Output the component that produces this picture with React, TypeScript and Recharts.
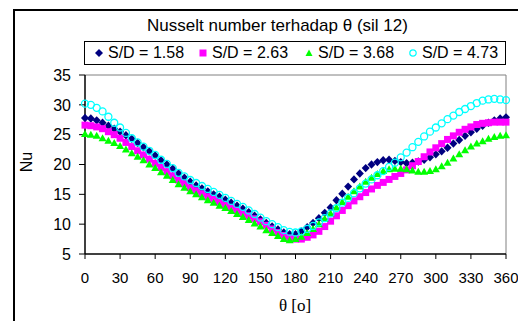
import React from 'react'
import {
  ScatterChart, Scatter, XAxis, YAxis, ReferenceLine
} from 'recharts'

const ANGLES = [
  0, 5, 10, 15, 20, 25, 30, 35, 40, 45, 50, 55, 60, 65, 70, 75, 80, 85, 90,
  95, 100, 105, 110, 115, 120, 125, 130, 135, 140, 145, 150, 155, 160, 165, 170, 175, 180,
  185, 190, 195, 200, 205, 210, 215, 220, 225, 230, 235, 240, 245, 250, 255, 260, 265, 270,
  275, 280, 285, 290, 295, 300, 305, 310, 315, 320, 325, 330, 335, 340, 345, 350, 355, 360,
]

// S/D = 1.58
const NU_158 = [
  27.8, 27.7, 27.4, 27.0, 26.5, 26.0, 25.5, 24.9, 24.3, 23.6, 22.9, 22.2, 21.5, 20.7, 20.0, 19.3, 18.5, 17.8, 17.1,
  16.5, 16.0, 15.5, 15.0, 14.6, 14.1, 13.6, 13.1, 12.6, 12.0, 11.4, 10.8, 10.2, 9.6, 9.1, 8.6, 8.3, 8.3,
  8.8, 9.5, 10.2, 11.0, 11.9, 12.8, 14.0, 15.1, 16.3, 17.5, 18.5, 19.4, 20.0, 20.4, 20.7, 20.8, 20.6, 20.4,
  20.2, 20.3, 20.5, 20.8, 21.2, 21.7, 22.2, 22.8, 23.5, 24.1, 24.8, 25.4, 26.0, 26.5, 27.0, 27.4, 27.7, 27.9,
]

// S/D = 2.63
const NU_263 = [
  26.6, 26.5, 26.3, 26.0, 25.5, 25.0, 24.4, 23.7, 23.0, 22.3, 21.6, 20.9, 20.2, 19.5, 18.8, 18.1, 17.4, 16.8, 16.1,
  15.6, 15.1, 14.6, 14.2, 13.7, 13.2, 12.8, 12.3, 11.8, 11.4, 10.9, 10.4, 9.8, 9.2, 8.6, 8.1, 7.7, 7.5,
  7.5, 7.8, 8.2, 8.8, 9.6, 10.5, 11.4, 12.3, 13.1, 13.9, 14.6, 15.3, 15.9, 16.5, 17.0, 17.5, 18.0, 18.5,
  19.1, 19.8, 20.5, 21.3, 22.1, 22.8, 23.5, 24.2, 24.8, 25.4, 25.9, 26.3, 26.7, 26.9, 27.0, 27.1, 27.1, 27.1,
]

// S/D = 3.68
const NU_368 = [
  25.1, 25.0, 24.8, 24.4, 24.0, 23.6, 23.1, 22.5, 21.9, 21.3, 20.7, 20.0, 19.4, 18.7, 18.1, 17.4, 16.7, 16.1, 15.5,
  15.0, 14.5, 14.0, 13.6, 13.1, 12.7, 12.2, 11.7, 11.2, 10.7, 10.1, 9.6, 9.0, 8.5, 8.0, 7.5, 7.3, 7.5,
  7.9, 8.5, 9.2, 10.0, 10.9, 11.8, 12.8, 13.7, 14.6, 15.5, 16.3, 17.1, 17.8, 18.4, 18.9, 19.2, 19.3, 19.3,
  19.2, 19.0, 18.8, 18.8, 18.9, 19.2, 19.7, 20.3, 21.0, 21.7, 22.4, 23.0, 23.5, 23.9, 24.3, 24.6, 24.8, 24.9,
]

// S/D = 4.73
const NU_473 = [
  30.2, 30.0, 29.5, 28.9, 28.0, 27.0, 26.2, 25.3, 24.4, 23.7, 23.0, 22.3, 21.6, 20.8, 20.1, 19.4, 18.6, 18.0, 17.4,
  16.9, 16.4, 15.9, 15.4, 14.9, 14.4, 13.9, 13.4, 12.9, 12.3, 11.7, 11.1, 10.5, 10.0, 9.5, 9.0, 8.7, 8.6,
  8.8, 9.2, 9.7, 10.3, 11.0, 11.8, 12.7, 13.6, 14.4, 15.2, 16.0, 16.8, 17.5, 18.2, 18.9, 19.6, 20.3, 21.2,
  22.0, 22.9, 23.8, 24.7, 25.5, 26.2, 26.9, 27.6, 28.2, 28.8, 29.3, 29.8, 30.3, 30.7, 30.9, 31.0, 30.9, 30.8,
]

const X_TICKS = [0, 30, 60, 90, 120, 150, 180, 210, 240, 270, 300, 330, 360]
const Y_TICKS = [5, 10, 15, 20, 25, 30, 35]

const NAVY = '#000080'
const MAGENTA = '#ff00ff'
const GREEN = '#00ff00'
const CYAN = '#00ffff'

const FONT = '"Liberation Sans", Arial, sans-serif'

const toPoints = (vals: number[]) => ANGLES.map((a, i) => ({ x: a, y: vals[i] }))

const Diamond = (p: any) => (
  <path d={`M${p.cx},${p.cy - 4.2}L${p.cx + 4},${p.cy}L${p.cx},${p.cy + 4.2}L${p.cx - 4},${p.cy}Z`} fill={NAVY} />
)
const Square = (p: any) => <rect x={p.cx - 3.5} y={p.cy - 3.5} width={7} height={7} fill={MAGENTA} />
const Triangle = (p: any) => (
  <path d={`M${p.cx},${p.cy - 4}L${p.cx + 4},${p.cy + 3}L${p.cx - 4},${p.cy + 3}Z`} fill={GREEN} />
)
const Ring = (p: any) => <circle cx={p.cx} cy={p.cy} r={3.5} fill="none" stroke={CYAN} strokeWidth={1.3} />

function LegendBox() {
  const items = [
    { label: 'S/D = 1.58', icon: <path d="M4,0L8,4L4,8L0,4Z" fill={NAVY} /> },
    { label: 'S/D = 2.63', icon: <rect x={0.5} y={0.5} width={7} height={7} fill={MAGENTA} /> },
    { label: 'S/D = 3.68', icon: <path d="M4,0.5L7.5,7L0.5,7Z" fill={GREEN} /> },
    { label: 'S/D = 4.73', icon: <circle cx={4} cy={4} r={3.2} fill="none" stroke={CYAN} strokeWidth={1.2} /> },
  ]
  const lefts = [94, 198, 304, 408]
  return (
    <div style={{ position: 'absolute', left: 84, top: 41, width: 420, height: 22, border: '1px solid #000', background: '#fff' }}>
      {items.map((it, i) => (
        <div key={i} style={{ position: 'absolute', left: lefts[i] - 84, top: 0, height: 22, display: 'flex', alignItems: 'center' }}>
          <svg width={8} height={8} style={{ marginRight: 5 }}>{it.icon}</svg>
          <span style={{ fontFamily: FONT, fontSize: 16, color: '#000', whiteSpace: 'nowrap' }}>{it.label}</span>
        </div>
      ))}
    </div>
  )
}

export default function App() {
  return (
    <div style={{ position: 'absolute', left: 0, top: 0, width: 518, height: 321, background: '#fff', overflow: 'hidden' }}>
      <div style={{ position: 'absolute', left: 13, top: 9, width: 600, height: 400, border: '2px solid #000' }} />
      <div style={{ position: 'absolute', left: 0, top: 0 }}>
        <ScatterChart width={518} height={321} margin={{ top: 75, right: 12, bottom: 17, left: 0 }}>
          <XAxis
            type="number"
            dataKey="x"
            domain={[0, 360]}
            ticks={X_TICKS}
            interval={0}
            height={50}
            tickSize={5}
            tickMargin={13}
            axisLine={{ stroke: '#000', strokeWidth: 1.5 }}
            tickLine={{ stroke: '#000' }}
            tick={{ fill: '#000', fontSize: 15, fontFamily: FONT }}
          />
          <YAxis
            type="number"
            dataKey="y"
            domain={[5, 35]}
            ticks={Y_TICKS}
            interval={0}
            width={85}
            tickSize={6}
            tickMargin={8}
            axisLine={{ stroke: '#000', strokeWidth: 1.5 }}
            tickLine={{ stroke: '#000' }}
            tick={{ fill: '#000', fontSize: 16, fontFamily: FONT }}
          />
          <ReferenceLine y={35} stroke="#808080" />
          <ReferenceLine x={360} stroke="#808080" />
          <Scatter data={toPoints(NU_158)} shape={Diamond} isAnimationActive={false} />
          <Scatter data={toPoints(NU_263)} shape={Square} isAnimationActive={false} />
          <Scatter data={toPoints(NU_368)} shape={Triangle} isAnimationActive={false} />
          <Scatter data={toPoints(NU_473)} shape={Ring} isAnimationActive={false} />
        </ScatterChart>
      </div>
      <div style={{ position: 'absolute', left: 0, width: 555, top: 16, textAlign: 'center', fontFamily: FONT, fontSize: 17, color: '#000', whiteSpace: 'nowrap' }}>
        Nusselt number terhadap θ (sil 12)
      </div>
      <LegendBox />
      <div style={{ position: 'absolute', left: 14, top: 152, width: 26, height: 20, transform: 'rotate(-90deg)', fontFamily: FONT, fontSize: 16, color: '#000', textAlign: 'center', lineHeight: '20px' }}>
        Nu
      </div>
      <div style={{ position: 'absolute', left: 195, width: 200, top: 296, textAlign: 'center', fontFamily: '"Liberation Serif", "Times New Roman", serif', fontSize: 17, color: '#000' }}>
        θ [o]
      </div>
    </div>
  )
}
